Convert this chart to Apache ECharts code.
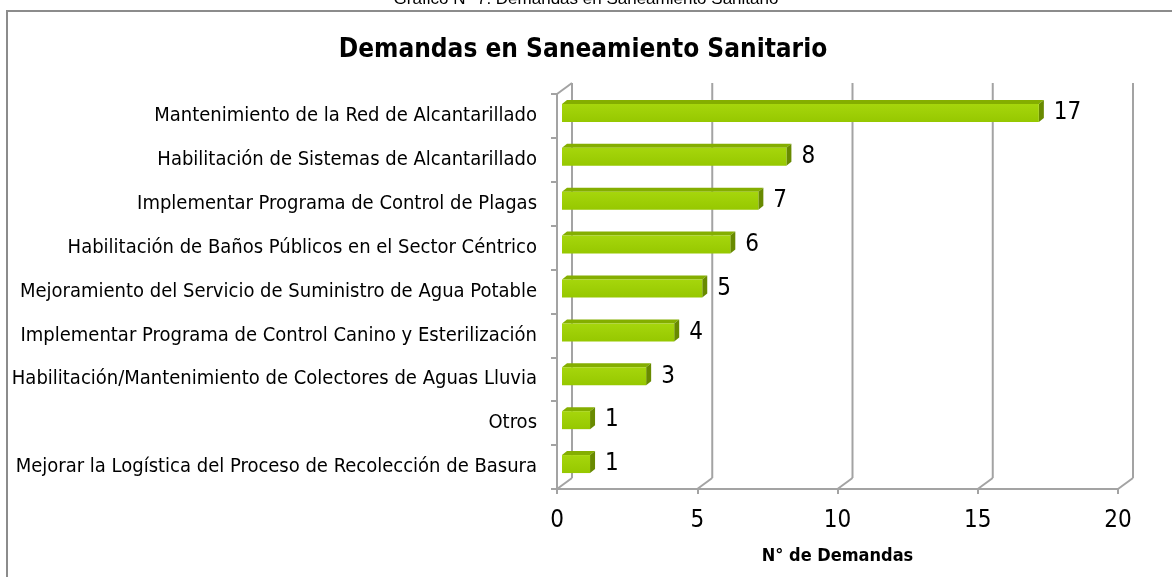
<!DOCTYPE html>
<html>
<head>
<meta charset="utf-8">
<script src="https://cdn.jsdelivr.net/npm/echarts@6/dist/echarts.min.js"></script>
<style>
  html, body { margin: 0; padding: 0; background: #fff; }
  #chart { width: 1172px; height: 577px; }
</style>
</head>
<body>
<div id="chart"></div>
<script>
var categories = [
  "Mantenimiento de la Red de Alcantarillado",
  "Habilitación de Sistemas de Alcantarillado",
  "Implementar Programa de Control de Plagas",
  "Habilitación de Baños Públicos en el Sector Céntrico",
  "Mejoramiento del Servicio de Suministro de Agua Potable",
  "Implementar Programa de Control Canino y Esterilización",
  "Habilitación/Mantenimiento de Colectores de Aguas Lluvia",
  "Otros",
  "Mejorar la Logística del Proceso de Recolección de Basura"
];
var demandas = [17, 8, 7, 6, 5, 4, 3, 1, 1];
var xTicks = [0, 5, 10, 15, 20];

var narrow = "'Liberation Sans Narrow', 'Arial Narrow', 'DejaVu Sans Condensed', sans-serif";
var gridColor = "#A3A3A3";
// desplazamiento de la pared del fondo (efecto 3D)
var DX = 15, DY = -11;

var chart = echarts.init(document.getElementById("chart"));

function renderWall(params, api) {
  var cs = params.coordSys;
  var v = api.value(0);
  var fx = api.coord([v, 0])[0];
  var top = cs.y, bottom = cs.y + cs.height;
  var st = { stroke: gridColor, lineWidth: 2 };
  var children = [
    { type: "line", shape: { x1: fx, y1: bottom, x2: fx + DX, y2: bottom + DY }, style: st },
    { type: "line", shape: { x1: fx + DX, y1: bottom + DY, x2: fx + DX, y2: top + DY }, style: st }
  ];
  if (v === 0) {
    children.push({ type: "line", shape: { x1: fx, y1: top, x2: fx + DX, y2: top + DY }, style: st });
  }
  return { type: "group", children: children };
}

function renderBar(params, api) {
  var idx = api.value(1);
  var val = api.value(0);
  var p0 = api.coord([0, idx]);
  var p1 = api.coord([val, idx]);
  var d = 5, dz = 4, h = 18;
  var x0 = p0[0] + 5, x1 = p1[0] + 5;
  var yc = p0[1] - 3;
  var yt = yc - h / 2, yb = yc + h / 2;
  return {
    type: "group",
    children: [
      {
        type: "polygon",
        shape: { points: [[x0, yt], [x0 + d, yt - dz], [x1 + d, yt - dz], [x1, yt]] },
        style: { fill: "#84AE00" }
      },
      {
        type: "polygon",
        shape: { points: [[x1, yt], [x1 + d, yt - dz], [x1 + d, yb - dz], [x1, yb]] },
        style: { fill: "#688A00" }
      },
      {
        type: "rect",
        shape: { x: x0, y: yt, width: x1 - x0, height: h },
        style: {
          fill: new echarts.graphic.LinearGradient(0, 0, 0, 1, [
            { offset: 0, color: "#A6D60C" },
            { offset: 1, color: "#96C800" }
          ])
        }
      },
      {
        type: "text",
        style: {
          text: String(val),
          x: x1 + d + 10,
          y: yc,
          verticalAlign: "middle",
          align: "left",
          fill: "#000",
          font: "24px " + narrow
        }
      }
    ]
  };
}

var option = {
  animation: false,
  title: {
    text: "Demandas en Saneamiento Sanitario",
    left: 578,
    textAlign: "center",
    top: 32,
    textStyle: { fontFamily: narrow, fontSize: 26, fontWeight: "bold", color: "#000" }
  },
  graphic: [
    {
      type: "rect",
      shape: { x: 7, y: 11, width: 1180, height: 600 },
      style: { fill: "none", stroke: "#8C8C8C", lineWidth: 2 },
      z: -10
    },
    {
      type: "text",
      x: 586,
      y: 8,
      style: {
        text: "Gráfico N° 7: Demandas en Saneamiento Sanitario",
        align: "center",
        verticalAlign: "bottom",
        font: "17px 'Liberation Sans', Arial, sans-serif",
        fill: "#000"
      }
    }
  ],
  grid: { left: 557, right: 54, top: 94, bottom: 88, outerBoundsMode: "none" },
  xAxis: {
    type: "value",
    min: 0,
    max: 20,
    interval: 5,
    splitLine: { show: false },
    axisLine: { show: true, lineStyle: { color: gridColor, width: 2 } },
    axisTick: { show: true, length: 5, lineStyle: { color: gridColor, width: 2 } },
    axisLabel: { fontFamily: narrow, fontSize: 24, color: "#000", margin: 20 },
    name: "N° de Demandas",
    nameLocation: "middle",
    nameGap: 58,
    nameTextStyle: { fontFamily: narrow, fontSize: 18, fontWeight: "bold", color: "#000" }
  },
  yAxis: {
    type: "category",
    inverse: true,
    data: categories,
    axisLine: { show: true, lineStyle: { color: gridColor, width: 2 } },
    axisTick: { show: true, length: 6, lineStyle: { color: gridColor, width: 2 } },
    axisLabel: { fontFamily: narrow, fontSize: 20, color: "#000", margin: 20 },
    splitLine: { show: false }
  },
  series: [
    {
      type: "custom",
      name: "pared",
      renderItem: renderWall,
      clip: false,
      z: 1,
      silent: true,
      data: xTicks.map(function (v) { return [v, 0]; })
    },
    {
      type: "custom",
      name: "Demandas",
      renderItem: renderBar,
      clip: false,
      z: 5,
      encode: { x: 0, y: 1 },
      data: demandas.map(function (v, i) { return [v, i]; })
    }
  ]
};

chart.setOption(option);
</script>
</body>
</html>
